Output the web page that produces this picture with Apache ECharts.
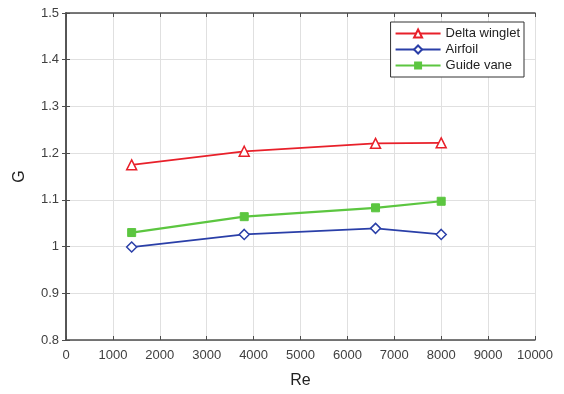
<!DOCTYPE html>
<html><head><meta charset="utf-8">
<script src="https://cdn.jsdelivr.net/npm/echarts@6/dist/echarts.min.js"></script>
<style>html,body{margin:0;padding:0;background:#fff}#c{width:564px;height:394px}</style>
</head><body><div id="c"></div>
<script>
const reValues = [1400, 3800, 6600, 8000];
const deltaWinglet = [1.175, 1.204, 1.221, 1.222];
const airfoil = [0.999, 1.026, 1.039, 1.026];
const guideVane = [1.030, 1.064, 1.083, 1.097];
const seriesNames = ['Delta winglet', 'Airfoil', 'Guide vane'];

const pair = arr => reValues.map((x, i) => [x, arr[i]]);
const chart = echarts.init(document.getElementById('c'));
const axisCol = '#4d4d4d';
const labelStyle = {color: '#404040', fontSize: 13, fontFamily: 'Liberation Sans, Arial'};
chart.setOption({
  animation: false,
  grid: {left: 66, top: 13, right: 29, bottom: 47},
  legend: {
    data: seriesNames, orient: 'vertical', right: 40, top: 22,
    backgroundColor: '#fff', borderColor: '#333', borderWidth: 1,
    itemWidth: 45, itemHeight: 10, itemGap: 3, padding: [5, 4, 5, 4],
    textStyle: {color: '#222', fontSize: 13, fontFamily: 'Liberation Sans, Arial'}
  },
  xAxis: [{
    type: 'value', min: 0, max: 10000, interval: 1000,
    name: 'Re', nameLocation: 'middle', nameGap: 33,
    nameTextStyle: {fontSize: 16, color: '#222', fontFamily: 'Liberation Sans, Arial'},
    axisLine: {show: true, lineStyle: {color: axisCol, width: 1.5}},
    axisTick: {show: true, inside: true, length: 4, lineStyle: {color: axisCol}},
    axisLabel: Object.assign({margin: 9, formatter: v => String(v)}, labelStyle),
    splitLine: {show: true, lineStyle: {color: '#e0e0e0'}}
  }, {
    type: 'value', position: 'top', min: 0, max: 10000, interval: 1000,
    axisLine: {show: true, lineStyle: {color: axisCol, width: 1.5}},
    axisTick: {show: true, inside: true, length: 4, lineStyle: {color: axisCol}},
    axisLabel: {show: false}, splitLine: {show: false}
  }],
  yAxis: [{
    type: 'value', min: 0.8, max: 1.5, interval: 0.1,
    name: 'G', nameLocation: 'middle', nameGap: 38, nameRotate: 90,
    nameTextStyle: {fontSize: 16, color: '#222', fontFamily: 'Liberation Sans, Arial'},
    axisLine: {show: true, lineStyle: {color: axisCol, width: 1.5}},
    axisTick: {show: true, inside: true, length: 4, lineStyle: {color: axisCol}},
    axisLabel: Object.assign({margin: 7, formatter: v => String(Math.round(v*10)/10)}, labelStyle),
    splitLine: {show: true, lineStyle: {color: '#e0e0e0'}}
  }, {
    type: 'value', position: 'right', min: 0.8, max: 1.5, interval: 0.1,
    axisLine: {show: true, lineStyle: {color: axisCol, width: 1.5}},
    axisTick: {show: true, inside: true, length: 4, lineStyle: {color: axisCol}},
    axisLabel: {show: false}, splitLine: {show: false}
  }],
  series: [
    {name: seriesNames[0], type: 'line', data: pair(deltaWinglet), symbol: 'triangle', symbolSize: 10,
     lineStyle: {color: '#e8202a', width: 1.8}, itemStyle: {color: '#fff', borderColor: '#e8202a', borderWidth: 1.5}, color: '#e8202a'},
    {name: seriesNames[1], type: 'line', data: pair(airfoil), symbol: 'diamond', symbolSize: 10,
     lineStyle: {color: '#2a3fa8', width: 1.8}, itemStyle: {color: '#fff', borderColor: '#2a3fa8', borderWidth: 1.5}, color: '#2a3fa8'},
    {name: seriesNames[2], type: 'line', data: pair(guideVane), symbol: 'rect', symbolSize: 8,
     lineStyle: {color: '#5cc640', width: 2.2}, itemStyle: {color: '#5cc640', borderColor: '#5cc640'}, color: '#5cc640'}
  ]
});
</script></body></html>
